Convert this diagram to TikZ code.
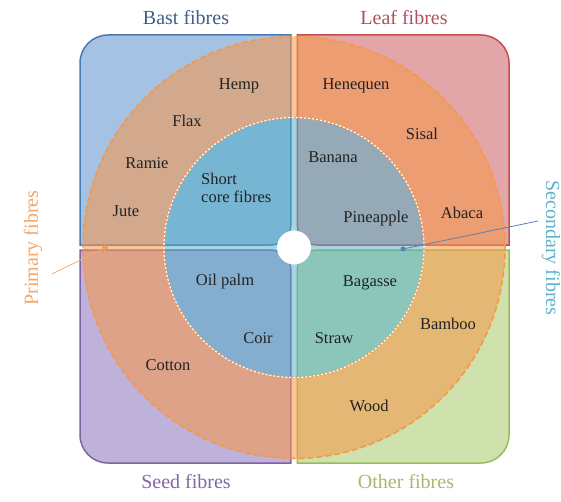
\documentclass[tikz,border=0pt]{standalone}
\usepackage{fontspec}
\setmainfont{Liberation Serif}
\definecolor{bastfill}{HTML}{A5C2E2}
\definecolor{bastline}{HTML}{4A7AB5}
\definecolor{leaffill}{HTML}{E2A6A8}
\definecolor{leafline}{HTML}{C0504D}
\definecolor{seedfill}{HTML}{BEB1DA}
\definecolor{seedline}{HTML}{8064A2}
\definecolor{otherfill}{HTML}{CFE2AE}
\definecolor{otherline}{HTML}{9BBB59}
\definecolor{orng}{HTML}{F79646}
\definecolor{cyn}{HTML}{4BACC6}
\definecolor{basttxt}{HTML}{3F5E86}
\definecolor{leaftxt}{HTML}{B0505A}
\definecolor{seedtxt}{HTML}{8068A8}
\definecolor{othertxt}{HTML}{A5B86E}
\definecolor{primtxt}{HTML}{F0A868}
\definecolor{sectxt}{HTML}{5DB3C9}
\definecolor{secline}{HTML}{5A80B2}
\definecolor{lbl}{HTML}{222222}
\begin{document}
\begin{tikzpicture}[x=1pt,y=1pt,
  quad/.style={line width=1.5pt},
  lab/.style={font=\fontsize{16.5}{18}\selectfont, text=lbl, inner sep=0pt},
  title/.style={font=\fontsize{20}{22}\selectfont, inner sep=0pt},
  ptr/.style={line width=0.8pt},
  ptrdot/.style={circle, inner sep=0pt, minimum size=6pt}]
\useasboundingbox (0,0) rectangle (561,501);
\coordinate (C) at (294,253.5);
% quadrant squares
\draw[quad, fill=bastfill, draw=bastline] (80,256) -- (80,438) arc[start angle=180,end angle=90,radius=28] -- (290.8,466) -- (290.8,276) arc[start angle=0,end angle=-90,radius=20] -- cycle;
\draw[quad, fill=leaffill, draw=leafline] (297.3,466) -- (481,466) arc[start angle=90,end angle=0,radius=28] -- (509,256) -- (317.3,256) arc[start angle=270,end angle=180,radius=20] -- cycle;
\draw[quad, fill=seedfill, draw=seedline] (80,251) -- (80,66) arc[start angle=180,end angle=270,radius=28] -- (290.8,38) -- (290.8,231) arc[start angle=0,end angle=90,radius=20] -- cycle;
\draw[quad, fill=otherfill, draw=otherline] (509,251) -- (509,66) arc[start angle=0,end angle=-90,radius=28] -- (297.3,38) -- (297.3,231) arc[start angle=180,end angle=90,radius=20] -- cycle;
% annulus and inner circle
\fill[orng, fill opacity=0.55, even odd rule] (C) circle[radius=211] (C) circle[radius=130];
\fill[cyn, fill opacity=0.5] (C) circle[radius=130];
\draw[orng, line width=1.5pt, dash pattern=on 6pt off 3pt] (C) circle[radius=211];
\draw[orng, line width=1.2pt] (C) circle[radius=130];
\draw[white, line width=1.2pt, dash pattern=on 2pt off 2pt] (C) circle[radius=130];
\fill[white] (C) circle[radius=17];
% labels
\node[lab] (hemp) at (239,415) {Hemp};
\node[lab] (flax) at (187,380) {Flax};
\node[lab] (ramie) at (147,338) {Ramie};
\node[lab] (jute) at (126,290) {Jute};
\node[lab, anchor=west, align=left] (scf) at (201,313) {Short\\core fibres};
\node[lab] (henequen) at (356,415) {Henequen};
\node[lab] (sisal) at (422,367) {Sisal};
\node[lab] (banana) at (333,344) {Banana};
\node[lab] (pineapple) at (376,282) {Pineapple};
\node[lab] (abaca) at (462,288) {Abaca};
\node[lab] (oilpalm) at (225,219) {Oil palm};
\node[lab] (coir) at (258,163) {Coir};
\node[lab] (cotton) at (168,136) {Cotton};
\node[lab] (bagasse) at (370,218) {Bagasse};
\node[lab] (straw) at (334,163) {Straw};
\node[lab] (bamboo) at (448,177) {Bamboo};
\node[lab] (wood) at (369,95) {Wood};
% titles
\node[title, text=basttxt] (bast) at (186,483) {Bast fibres};
\node[title, text=leaftxt] (leaf) at (404,483) {Leaf fibres};
\node[title, text=seedtxt] (seed) at (186,19) {Seed fibres};
\node[title, text=othertxt] (other) at (406,19) {Other fibres};
\node[title, text=primtxt, rotate=90] (prim) at (33,253) {Primary fibres};
\node[title, text=sectxt, rotate=-90] (sec) at (551,253) {Secondary fibres};
% pointers
\node[ptrdot, fill=orng] (pdot) at (105,253) {};
\coordinate (pstart) at (52,227);
\draw[ptr, orng!80] (pstart) -- (pdot.center);
\node[ptrdot, fill=secline, minimum size=5pt] (sdot) at (403,252) {};
\coordinate (sstart) at (538,280);
\draw[ptr, secline] (sstart) -- (sdot.center);
\end{tikzpicture}
\end{document}
